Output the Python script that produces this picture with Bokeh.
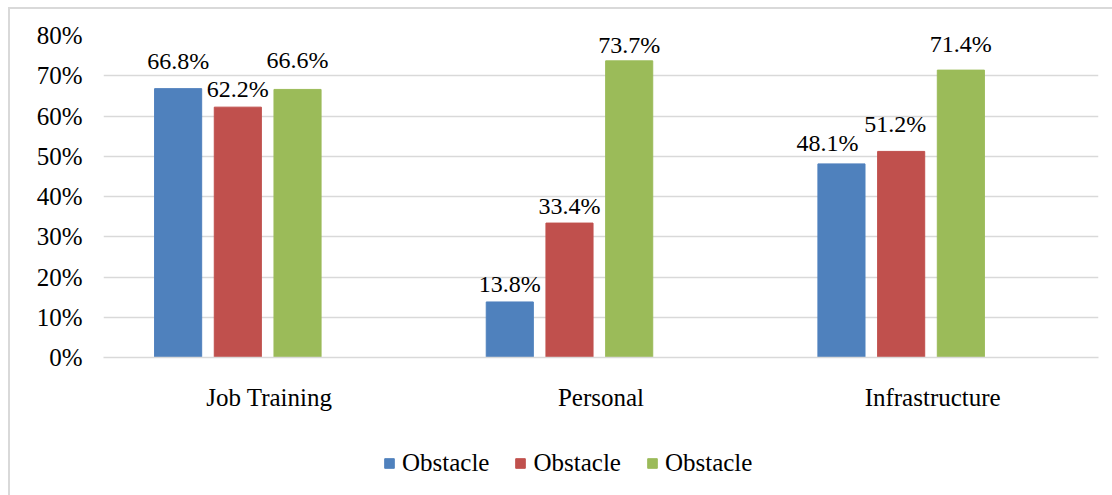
from bokeh.plotting import figure
from bokeh.layouts import column
from bokeh.models import (FactorRange, Range1d, FixedTicker, Legend, LegendItem,
                          ColumnDataSource, NumeralTickFormatter, LabelSet)
from bokeh.transform import dodge
from bokeh.embed import file_html
from bokeh.resources import INLINE

# ---- data ----
categories = ["Job Training", "Personal", "Infrastructure"]
series_names = ["Obstacle", "Obstacle", "Obstacle"]
obstacle_a = [0.668, 0.138, 0.481]
obstacle_b = [0.622, 0.334, 0.512]
obstacle_c = [0.666, 0.737, 0.714]
y_ticks = [0, 0.1, 0.2, 0.3, 0.4, 0.5, 0.6, 0.7, 0.8]

# ---- styles ----
colors = ["#4F81BD", "#C0504D", "#9BBB59"]
offsets = [-0.275, -0.095, 0.085]
bar_width = 0.142
# label placement tweaks (pixels): gap above bar, horizontal shift
label_gap = [[20, 10, 13], [10, 9, 19], [21, 8, 18]]
label_dx = [[0, 0, -14], [0, 0, -6], [0, 0, 0]]
FONT = "Liberation Serif"
GRID = "#d9d9d9"

p = figure(x_range=FactorRange(*categories, range_padding=0),
           y_range=Range1d(0, 0.8),
           width=1102, height=416, output_backend="svg", toolbar_location=None,
           min_border_left=93, min_border_right=14, min_border_top=26, min_border_bottom=68)
p.outline_line_color = None
p.background_fill_color = "white"
p.border_fill_color = "white"

series = [obstacle_a, obstacle_b, obstacle_c]
sources = []
for i, vals in enumerate(series):
    src = ColumnDataSource(dict(
        cat=categories, val=vals,
        lab=[f"{v * 100:.1f}%" for v in vals],
        dy=label_gap[i],
        dx=label_dx[i],
    ))
    sources.append(src)
    p.vbar(x=dodge("cat", offsets[i], range=p.x_range), top="val", width=bar_width,
           source=src, fill_color=colors[i], line_color=colors[i])
    p.add_layout(LabelSet(x=dodge("cat", offsets[i], range=p.x_range), y="val", text="lab",
                          x_offset="dx", y_offset="dy", source=src,
                          text_font=FONT, text_font_size="24px", text_color="#000000",
                          text_align="center", text_baseline="alphabetic"))

# y axis
p.yaxis.ticker = FixedTicker(ticks=y_ticks)
p.yaxis.formatter = NumeralTickFormatter(format="0%")
p.yaxis.axis_line_color = None
p.yaxis.major_tick_line_color = None
p.yaxis.minor_tick_line_color = None
p.yaxis.major_label_text_font = FONT
p.yaxis.major_label_text_font_size = "25px"
p.yaxis.major_label_text_color = "#000000"
p.yaxis.major_label_standoff = 15

# x axis
p.xaxis.axis_line_color = GRID
p.xaxis.axis_line_width = 1.5
p.xaxis.major_tick_line_color = None
p.xaxis.minor_tick_line_color = None
p.xaxis.major_label_text_font = FONT
p.xaxis.major_label_text_font_size = "25px"
p.xaxis.major_label_text_color = "#000000"
p.xaxis.major_label_standoff = 20

p.xgrid.grid_line_color = None
p.ygrid.grid_line_color = GRID
p.ygrid.grid_line_width = 1.5

# ---- legend strip (separate small figure; its bars lie outside its ranges) ----
pl = figure(width=1102, height=70, output_backend="svg", toolbar_location=None,
            min_border=0, x_range=FactorRange(*categories), y_range=Range1d(10, 11))
pl.axis.visible = False
pl.grid.visible = False
pl.outline_line_color = None
pl.background_fill_color = "white"
pl.border_fill_color = "white"
swatches = [pl.vbar(x=dodge("cat", 10, range=pl.x_range), top="val", width=0.1, source=sources[i],
                    fill_color=colors[i], line_color=colors[i]) for i in range(3)]
legend = Legend(items=[LegendItem(label=series_names[i], renderers=[swatches[i]]) for i in range(3)],
                orientation="horizontal", location=(280, 18),
                glyph_width=12, glyph_height=12, label_standoff=7, spacing=25,
                label_text_font=FONT, label_text_font_size="25px", label_text_color="#000000",
                border_line_color=None, background_fill_alpha=0, padding=0, margin=0)
pl.add_layout(legend, "center")

layout = column(p, pl, spacing=0, margin=(7, 0, 0, 8),
                styles={"border-left": "2px solid #d9d9d9", "border-top": "2px solid #d9d9d9"})

open("out.html", "w").write(file_html(layout, INLINE))
